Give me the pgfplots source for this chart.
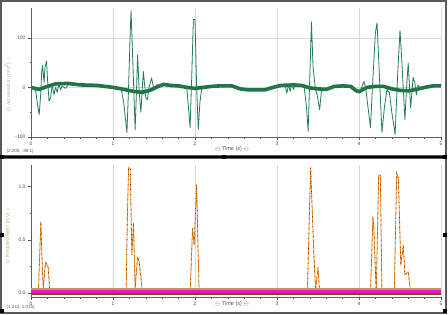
\documentclass[border=0pt]{standalone}
\usepackage{fontspec}
\setmainfont{Liberation Sans}
\usepackage{pgfplots}
\pgfplotsset{compat=1.18}
\definecolor{thinG}{RGB}{35,125,85}
\definecolor{thickG}{RGB}{30,115,70}
\definecolor{orng}{RGB}{225,140,35}
\definecolor{dbrn}{RGB}{120,35,15}
\definecolor{tanb}{RGB}{200,145,85}
\definecolor{pinkb}{RGB}{230,25,210}
\definecolor{brnb}{RGB}{135,70,20}
\definecolor{frm}{RGB}{90,90,90}
\pgfplotsset{
  panel/.style={
    scale only axis, width=410pt, xmin=0, xmax=5,
    axis lines=left, axis line style={-, gray!75!black, line width=0.5pt},
    xtick={0,1,2,3,4,5}, minor x tick num=4,
    tick align=outside, major tick length=3pt, minor tick length=1.5pt,
    tick style={gray!70!black, line width=0.4pt},
    xmajorgrids, grid style={gray!30, line width=0.5pt},
    tick label style={font=\fontsize{5}{6}\selectfont, text=gray!55!black},
    /pgf/number format/assume math mode=true,
    xticklabel style={yshift=1.5pt},
    yticklabel style={xshift=1pt},
    clip=true,
  }
}
\begin{document}
\begin{tikzpicture}
\useasboundingbox (0,0) rectangle (448pt,314pt);
\fill[white] (0,0) rectangle (448pt,314pt);
% frames
\draw[frm, line width=1.5pt] (1pt,158pt) rectangle (446pt,313pt);
\draw[frm, line width=1.5pt] (1pt,1pt) rectangle (446pt,156pt);
\draw[black, line width=1.6pt] (1pt,157pt) -- (446pt,157pt);
\foreach \p in {(2pt,157pt),(224pt,157pt),(445pt,157pt),(2pt,79pt),(445pt,79pt),(2pt,3pt),(445pt,3pt)}{
  \fill[black] \p ++(-2pt,-2pt) rectangle ++(4pt,4pt);
}
% ===== top panel =====
\begin{axis}[panel, at={(31pt,177pt)}, anchor=south west, height=129pt,
  ymin=-100, ymax=160, ytick={-100,0,100}, minor y tick num=1, ymajorgrids]
\addplot[thickG, line width=3.6pt, line join=round] coordinates {
(0,0)(0.1,-4)(0.2,2)(0.3,7)(0.45,8)(0.6,5)(0.8,4)(0.9,2)(1.0,0)(1.1,-3)(1.25,-8)(1.35,-10)(1.45,-6)(1.55,2)(1.62,6)(1.7,4)(1.8,3)(1.9,0)(2.0,-2)(2.1,0)(2.2,2)(2.3,3)(2.45,3)(2.55,-3)(2.65,-5)(2.85,-5)(2.95,0)(3.05,4)(3.2,5)(3.3,4)(3.4,-1)(3.5,-3)(3.6,-4)(3.7,2)(3.8,3)(3.9,2)(3.95,-5)(4.0,-9)(4.05,-4)(4.1,0)(4.2,2)(4.3,2)(4.4,-3)(4.5,-6)(4.6,-7)(4.7,-4)(4.8,0)(4.9,3)(5.0,3)};
\addplot[thinG, line width=0.8pt, line join=round] coordinates {
(0,0)(0.03,2)(0.06,-10)(0.08,-35)(0.10,-55)(0.12,-10)(0.13,30)(0.14,45)(0.16,10)(0.17,40)(0.19,53)(0.20,20)(0.22,-28)(0.24,-20)(0.26,5)(0.28,-15)(0.30,0)(0.32,-10)(0.34,8)(0.36,-5)(0.38,3)(0.42,-2)(0.46,6)(0.5,5)(0.8,4)(1.0,0)
(1.10,-3)(1.13,-30)(1.17,-91)(1.19,0)(1.21,110)(1.22,155)(1.24,60)(1.27,-85)(1.29,10)(1.30,65)(1.32,-10)(1.34,-50)(1.37,32)(1.40,-20)(1.42,-25)(1.44,0)(1.47,19)(1.50,-5)(1.53,5)(1.58,3)(1.62,8)(1.65,2)(1.68,7)(1.72,3)(1.8,3)(1.88,0)
(1.90,0)(1.92,-40)(1.94,-81)(1.96,20)(1.98,137)(2.00,137)(2.02,0)(2.04,-85)(2.06,-30)(2.08,-5)(2.10,0)(2.3,3)(2.45,3)(2.55,-3)(2.65,-5)(2.85,-5)(2.95,0)(3.05,4)
(3.10,4)(3.12,-12)(3.14,6)(3.16,-8)(3.18,8)(3.20,-5)(3.22,6)(3.25,4)(3.30,4)
(3.33,3)(3.36,-40)(3.38,-88)(3.40,20)(3.42,132)(3.44,40)(3.47,-5)(3.49,-15)(3.52,-45)(3.54,-10)(3.57,-3)(3.6,-4)(3.7,2)(3.8,3)(3.9,2)(3.95,-5)(4.0,-9)
(4.02,-5)(4.06,12)(4.08,0)(4.11,-40)(4.14,-81)(4.17,20)(4.20,110)(4.22,130)(4.25,20)(4.28,-91)(4.31,-40)(4.34,-5)(4.37,-10)(4.40,-50)(4.44,-95)(4.47,20)(4.50,115)(4.52,60)(4.56,-65)(4.58,0)(4.60,49)(4.63,-41)(4.66,20)(4.68,10)(4.70,-15)(4.72,5)(4.75,-3)(4.8,0)(4.9,3)(5.0,3)};
\end{axis}
\node[font=\fontsize{5}{6}\selectfont, text=gray!60, rotate=90] at (8pt,229pt) {$\oplus$ Acceleration (m/s\textsuperscript{2}) $\circ$};
\node[font=\fontsize{4.5}{5}\selectfont, text=gray!70!black, anchor=west] at (3pt,162.5pt) {(2.200, -38.1)};
\node[font=\fontsize{5.5}{6}\selectfont, text=gray!70!black] at (232pt,165pt) {$\ominus$ Time (s) $\ominus$};
% ===== bottom panel =====
\begin{axis}[panel, at={(31pt,17pt)}, anchor=south west, height=132pt,
  ymin=-0.038, ymax=1.204, ytick={0,0.5,1}, minor y tick num=1,
  yticklabel style={/pgf/number format/.cd, fixed, fixed zerofill, precision=1}]
\addplot[orng, line width=0.8pt, line join=round] coordinates {
(0,0)(0.09,0)(0.12,0.67)(0.135,0.3)(0.15,0.03)(0.165,0.2)(0.18,0.29)(0.21,0.24)(0.23,0)(1.16,0)(1.175,0.7)(1.19,1.18)(1.21,1.17)(1.23,0.36)(1.25,0.66)(1.27,0.03)(1.285,0.2)(1.30,0.34)(1.32,0.29)(1.36,0)(1.94,0)(1.95,0.19)(1.97,0.61)(1.99,0.45)(2.02,1.02)(2.05,0)(3.37,0)(3.41,1.18)(3.45,0.36)(3.47,0.03)(3.50,0.24)(3.52,0)(4.14,0)(4.17,0.72)(4.18,0.64)(4.21,0)(4.24,1.11)(4.26,1.11)(4.28,0)(4.43,0)(4.46,1.13)(4.48,1.08)(4.51,0.26)(4.54,0.45)(4.56,0.17)(4.60,0.20)(4.63,0)(5,0)};
\addplot[dbrn, line width=0.6pt, dash pattern=on 1pt off 4pt] coordinates {
(0,0)(0.09,0)(0.12,0.67)(0.135,0.3)(0.15,0.03)(0.165,0.2)(0.18,0.29)(0.21,0.24)(0.23,0)(1.16,0)(1.175,0.7)(1.19,1.18)(1.21,1.17)(1.23,0.36)(1.25,0.66)(1.27,0.03)(1.285,0.2)(1.30,0.34)(1.32,0.29)(1.36,0)(1.94,0)(1.95,0.19)(1.97,0.61)(1.99,0.45)(2.02,1.02)(2.05,0)(3.37,0)(3.41,1.18)(3.45,0.36)(3.47,0.03)(3.50,0.24)(3.52,0)(4.14,0)(4.17,0.72)(4.18,0.64)(4.21,0)(4.24,1.11)(4.26,1.11)(4.28,0)(4.43,0)(4.46,1.13)(4.48,1.08)(4.51,0.26)(4.54,0.45)(4.56,0.17)(4.60,0.20)(4.63,0)(5,0)};
\addplot[tanb, line width=2pt] coordinates {(0,0.037)(5,0.037)};
\addplot[brnb, line width=2.4pt] coordinates {(0,-0.012)(5,-0.012)};
\addplot[pinkb, line width=3pt] coordinates {(0,0.015)(5,0.015)};
\end{axis}
\node[font=\fontsize{5}{6}\selectfont, text=orng!40!gray!70, rotate=90] at (8pt,78pt) {$\oplus$ Rectified EMG (mV) $\circ$};
\node[font=\fontsize{4.5}{5}\selectfont, text=gray!70!black, anchor=west] at (3pt,6.5pt) {(1.243, 1.015)};
\node[font=\fontsize{5.5}{6}\selectfont, text=gray!70!black] at (232pt,10pt) {$\ominus$ Time (s) $\ominus$};
\end{tikzpicture}
\end{document}
